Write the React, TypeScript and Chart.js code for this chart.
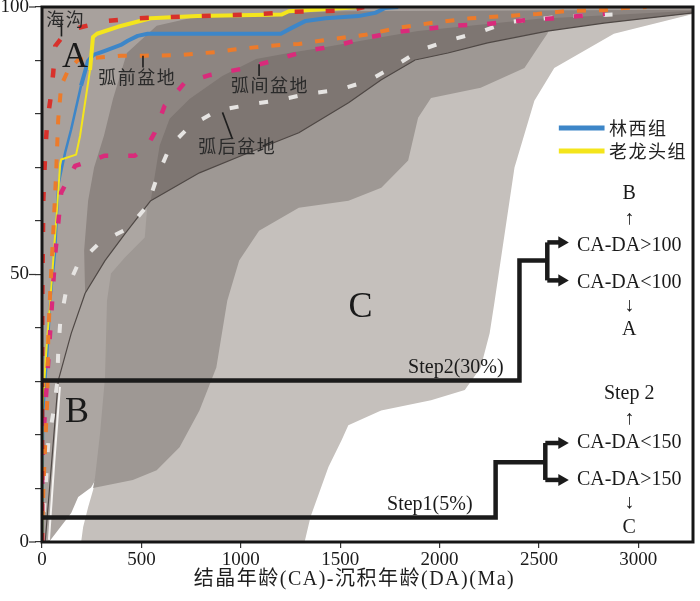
import React, { useEffect, useRef } from "react";
import { Chart, registerables } from "chart.js";

Chart.register(...registerables);

// ---------- axes ----------
const X_MIN = 0;
const X_MAX = 3275;
const Y_MIN = 0;
const Y_MAX = 100;
const X_TICKS = [0, 500, 1000, 1500, 2000, 2500, 3000];
const Y_TICKS = [0, 10, 20, 30, 40, 50, 60, 70, 80, 90, 100];
const Y_LABELED = [0, 50, 100];
const X_TITLE = "结晶年龄(CA)-沉积年龄(DA)(Ma)";

// ---------- sample curves (x: CA-DA / Ma, y: cumulative %) ----------
const linxiX = [0, 6.5, 31.5, 41.5, 66.5, 81.5, 116.5, 146.5, 196.5, 231.5, 256.5, 316.5, 396.5, 431.5, 481.5, 531.5, 1201.5, 1256.5, 1326.5, 1426.5, 1591.5, 1676.5, 1726.5, 1791.5];
const linxiY = [0, 24.6, 38.2, 45.1, 54.5, 66.6, 72.8, 77.1, 85.3, 89.9, 91, 91.8, 92.9, 93.7, 94.6, 95, 95, 96.1, 97.4, 97.9, 98.3, 98.9, 99.8, 100];

const laolongtouX = [0, 1.5, 26.5, 41.5, 66.5, 91.5, 96.5, 171.5, 191.5, 216.5, 241.5, 256.5, 276.5, 381.5, 546.5, 781.5, 1206.5, 1241.5, 1526.5, 1591.5];
const laolongtouY = [0, 24.6, 38.2, 45.1, 57.6, 70.7, 71.5, 72.4, 75.9, 82.1, 88.2, 94.4, 95, 96.3, 97.9, 98.3, 98.6, 99.2, 99.8, 100];

// reference curves
const trenchX = [0, 1.5, 6.5, 16.5, 26.5, 41.5, 56.5, 66.5, 106.5, 181.5, 331.5, 481.5, 791.5, 1106.5, 1256.5, 1556.5, 1620];
const trenchY = [0, 45, 63.8, 73.1, 78.7, 82.5, 87.7, 92.7, 94.6, 96.1, 97.4, 97.9, 98.3, 98.7, 99.1, 99.4, 100];

const forearcX = [0, 6.5, 16.5, 26.5, 31.5, 41.5, 56.5, 71.5, 81.5, 96.5, 131.5, 181.5, 266.5, 396.5, 516.5, 681.5, 881.5, 956.5, 1126.5, 1291.5, 1456.5, 1626.5, 1791.5, 1956.5, 2041.5, 2156.5, 2326.5, 2491.5, 2656.5, 2826.5, 2926.5, 3041.5];
const forearcY = [0, 9.7, 18.5, 26.5, 38.2, 47, 57.6, 69.4, 78.9, 85.3, 88.2, 90.1, 90.5, 90.9, 90.9, 91, 91.6, 92, 92.7, 93.1, 94, 94.8, 96.1, 97, 97.4, 97.9, 98.3, 98.7, 99.3, 99.4, 99.8, 100];

const intraArcX = [0, 1.5, 6.5, 16.5, 26.5, 36.5, 46.5, 56.5, 66.5, 81.5, 96.5, 166.5, 316.5, 466.5, 531.5, 566.5, 616.5, 716.5, 846.5, 1026.5, 1176.5, 1326.5, 1476.5, 1626.5, 1776.5, 1926.5, 2081.5, 2231.5, 2391.5, 2541.5, 2701.5, 2831.5];
const intraArcY = [0, 14, 19.6, 25.2, 30.8, 36.8, 42.4, 48.3, 53.9, 59.5, 65.3, 70.3, 72.2, 72.2, 74.1, 76.5, 81.5, 85.8, 87.3, 88.6, 90.1, 91.8, 92.7, 94.2, 95.3, 95.9, 96.5, 96.8, 97.4, 97.8, 98.3, 98.7];

const backArcX = [0, 11.5, 21.5, 31.5, 56.5, 76.5, 81.5, 91.5, 121.5, 181.5, 291.5, 431.5, 531.5, 581.5, 646.5, 746.5, 881.5, 1031.5, 1191.5, 1341.5, 1491.5, 1641.5, 1776.5, 1906.5, 2051.5, 2201.5, 2346.5, 2501.5, 2656.5, 2806.5, 2956.5];
const backArcY = [0, 6.9, 12.1, 18.5, 24.1, 29.7, 35.4, 41, 47, 52, 56, 58.6, 62.9, 68.5, 74.1, 77.8, 80.6, 81.7, 82.6, 83.8, 84.5, 86.2, 89, 92, 93.8, 95.3, 97.2, 97.8, 98.3, 98.5, 98.7];

// ---------- field boundaries ----------
// lower boundary of convergent field (thin dark curve)
const fieldAX = [16, 82, 147, 217, 317, 417, 547, 792, 1042, 1292, 1542, 1707, 1877, 2042, 2242, 2542, 2827, 3275];
const fieldAY = [0, 30.2, 39, 46.5, 52.6, 57.6, 63.8, 69, 72.8, 76.5, 82.1, 86.4, 90.1, 91.4, 93.3, 95.5, 97, 98.9];

// fore-arc sub-field: upper-left edge
const forearcFieldX = [217, 212, 232, 262, 312, 357, 427, 577, 792, 1500, 3275];
const forearcFieldY = [46.5, 54.5, 63.8, 70, 76, 82.8, 91.4, 96.5, 98.3, 99.2, 99.5];

// intra/back-arc sub-field: upper-left edge
const arcFieldX = [547, 592, 642, 742, 907, 1077, 1242, 1407, 1742, 1892, 2500, 3275];
const arcFieldY = [63.8, 74.1, 79.1, 82.8, 87.1, 90.3, 91.4, 92.4, 94.6, 95.5, 97.8, 99.3];

// extensional field C (light)
const fieldCX = [197, 1321, 1351, 1441, 1507, 1541, 1706, 1957, 2127, 2207, 2252, 2277, 2377, 2477, 2577, 2877, 3275, 3275, 300, 265, 257, 232, 207];
const fieldCY = [0, 0, 4.7, 14, 19, 21.8, 24.6, 26.5, 28.4, 32.6, 39, 45, 70, 82.5, 88.6, 95, 98.7, 100, 100, 11, 9.7, 6.5, 2.8];

// collisional field B
const fieldBX = [0, 35, 147, 182, 247, 275, 330, 360, 600, 800, 800, 0];
const fieldBY = [0, 0, 5.4, 8.4, 10.2, 12, 30, 45, 60, 80, 100, 100];

// overlap band (darker, middle)
const overlapX = [257, 267, 292, 317, 327, 347, 417, 517, 532, 700, 1500, 2400, 2560, 2542, 2507, 2427, 2207, 1957, 1892, 1842, 1707, 1542, 1292, 1092, 992, 932, 877, 792, 692, 577, 457];
const overlapY = [10.1, 12.1, 20.3, 30.8, 45.1, 50.2, 53.2, 56.9, 63.8, 75, 86, 95.5, 96.5, 95, 93.1, 88.6, 84.9, 83, 79.3, 71.3, 66.2, 63.8, 62.5, 58.2, 52.6, 45.1, 32.6, 24.6, 17.7, 13.4, 11.6];

// white gap along the field boundary
const gapX = [35, 62, 90];
const gapY = [0.4, 15, 29];

// ---------- step flow ----------
const step1X = [0, 2282, 2282, 2532];
const step1Y = [4.6, 4.6, 14.9, 14.9];
const step1BranchX = [2532, 2532];
const step1BranchY = [11.6, 18.5];
const step2X = [0, 2402, 2402, 2542];
const step2Y = [30.2, 30.2, 52.6, 52.6];
const step2BranchX = [2542, 2542];
const step2BranchY = [48.9, 56];
const ARROW_END = 2615;

// ---------- texts ----------
const FONT_SERIF = "'Liberation Serif', 'Times New Roman', serif";
const FONT_CJK = "'Noto Sans CJK SC', sans-serif";
const FONT_TITLE = "'Liberation Serif', 'Noto Sans CJK SC', serif";

const bigLetters = [
  { text: "A", x: 166, y: 90.5 },
  { text: "B", x: 176, y: 24.2 },
  { text: "C", x: 1602, y: 43.8 },
];
const fieldNames = [
  { text: "海沟", x: 21.5, y: 97.7, align: "left" },
  { text: "弧前盆地", x: 479, y: 86.8, align: "center" },
  { text: "弧间盆地", x: 1147, y: 85.4, align: "center" },
  { text: "弧后盆地", x: 982, y: 73.9, align: "center" },
];
const leaders = [
  { x1: 98, y1: 97.6, x2: 98, y2: 94.5 },
  { x1: 508, y1: 90.9, x2: 508, y2: 88.7 },
  { x1: 1092, y1: 89.3, x2: 1092, y2: 87.1 },
  { x1: 908, y1: 80.3, x2: 958, y2: 75.3 },
];
const stepLabels = [
  { text: "Step2(30%)", x: 2082, y: 32.6 },
  { text: "Step1(5%)", x: 1951, y: 6.9 },
];
const FLOW_X = 2954;
const flowText = ["B", "↑", "CA-DA>100", "CA-DA<100", "↓", "A", "Step 2", "↑", "CA-DA<150", "CA-DA>150", "↓", "C"];
const flowY = [65.1, 60.4, 55.4, 48.5, 44.2, 39.6, 27.8, 23.1, 18.5, 11.6, 7.3, 2.6];

const legendNames = ["林西组", "老龙头组"];
const legendY = [77.4, 73.1];
const LEGEND_X1 = 2600;
const LEGEND_X2 = 2830;
const LEGEND_TEXT_X = 2852;
const TITLE_X = 1572;

// ---------- helpers ----------
const zip = (xs: number[], ys: number[]) => xs.map((x, i) => ({ x, y: ys[i] }));

const poly = (pts: any[], color: string, order: number) => ({
  data: pts,
  fill: "shape",
  backgroundColor: color,
  borderColor: "rgba(0,0,0,0)",
  borderWidth: 0,
  pointRadius: 0,
  tension: 0,
  order,
});

const curve = (pts: any[], color: string, width: number, dash: number[], order: number, extra: any = {}) => ({
  data: pts,
  fill: false,
  borderColor: color,
  backgroundColor: color,
  borderWidth: width,
  borderDash: dash,
  borderCapStyle: "butt",
  borderJoinStyle: "round",
  pointRadius: 0,
  tension: 0,
  clip: 0,
  order,
  ...extra,
});

const blackPts = zip(fieldAX, fieldAY);
const fieldAPoly = [{ x: 0, y: 0 }, ...blackPts, { x: X_MAX, y: 100 }, { x: 0, y: 100 }];
const forearcPoly = [...zip(forearcFieldX, forearcFieldY), ...blackPts.filter((p) => p.x > 217).reverse()];
const arcPoly = [...zip(arcFieldX, arcFieldY), ...blackPts.filter((p) => p.x > 547).reverse()];

const arrow = (x0: number, y: number, order: number) =>
  curve([{ x: x0, y }, { x: ARROW_END, y }], "#1b1b1b", 4.5, [], order, {
    pointRadius: [0, 7],
    pointStyle: "triangle",
    pointRotation: 90,
    pointBackgroundColor: "#1b1b1b",
    pointBorderWidth: 0,
  });

const overlayPlugin = {
  id: "overlay",
  afterDatasetsDraw(chart: any) {
    const { ctx, chartArea, scales } = chart;
    const px = (v: number) => scales.x.getPixelForValue(v);
    const py = (v: number) => scales.y.getPixelForValue(v);
    ctx.save();
    ctx.textBaseline = "middle";

    // leader lines
    ctx.strokeStyle = "#1e1e1e";
    ctx.lineWidth = 1.6;
    for (const l of leaders) {
      ctx.beginPath();
      ctx.moveTo(px(l.x1), py(l.y1));
      ctx.lineTo(px(l.x2), py(l.y2));
      ctx.stroke();
    }

    // field names
    ctx.fillStyle = "#2a2a2a";
    ctx.font = `18px ${FONT_CJK}`;
    (ctx as any).letterSpacing = "1.5px";
    for (const t of fieldNames) {
      ctx.textAlign = t.align;
      ctx.fillText(t.text, px(t.x), py(t.y));
    }
    (ctx as any).letterSpacing = "0px";

    // big letters
    ctx.fillStyle = "#1a1a1a";
    ctx.textAlign = "center";
    ctx.font = `36px ${FONT_SERIF}`;
    for (const t of bigLetters) ctx.fillText(t.text, px(t.x), py(t.y));

    // step labels & flow text
    ctx.font = `20px ${FONT_SERIF}`;
    for (const t of stepLabels) ctx.fillText(t.text, px(t.x), py(t.y));
    flowText.forEach((t, i) => ctx.fillText(t, px(FLOW_X), py(flowY[i])));

    // legend
    const ds = chart.data.datasets;
    legendNames.forEach((name, i) => {
      const d = ds.find((s: any) => s.label === name);
      ctx.strokeStyle = d ? d.borderColor : "#000";
      ctx.lineWidth = 5;
      ctx.beginPath();
      ctx.moveTo(px(LEGEND_X1), py(legendY[i]));
      ctx.lineTo(px(LEGEND_X2), py(legendY[i]));
      ctx.stroke();
      ctx.fillStyle = "#222";
      ctx.textAlign = "left";
      ctx.font = `18px ${FONT_CJK}`;
      (ctx as any).letterSpacing = "1.5px";
      ctx.fillText(name, px(LEGEND_TEXT_X), py(legendY[i]));
      (ctx as any).letterSpacing = "0px";
    });

    // frame
    ctx.strokeStyle = "#161616";
    ctx.lineWidth = 3;
    ctx.strokeRect(chartArea.left, chartArea.top, chartArea.right - chartArea.left, chartArea.bottom - chartArea.top);

    // longer major y ticks
    ctx.strokeStyle = "#333";
    ctx.lineWidth = 1.2;
    for (const v of Y_LABELED) {
      ctx.beginPath();
      ctx.moveTo(chartArea.left - 13, py(v));
      ctx.lineTo(chartArea.left - 6, py(v));
      ctx.stroke();
    }

    // axis title
    ctx.fillStyle = "#1e1e1e";
    ctx.textAlign = "center";
    ctx.font = `20px ${FONT_TITLE}`;
    (ctx as any).letterSpacing = "1.5px";
    ctx.fillText(X_TITLE, px(TITLE_X), 580);
    (ctx as any).letterSpacing = "0px";
    ctx.restore();
  },
};

export default function App() {
  const ref = useRef<HTMLCanvasElement | null>(null);

  useEffect(() => {
    if (!ref.current) return;
    const datasets: any[] = [
      // fields (higher order = further back)
      poly(zip(fieldCX, fieldCY), "#c5c0bc", 100),
      poly(zip(fieldBX, fieldBY), "#aca6a2", 99),
      poly(zip(overlapX, overlapY), "#9e9894", 98),
      poly(fieldAPoly, "#a8a19d", 97),
      poly(forearcPoly, "#8d8581", 96),
      poly(arcPoly, "#7e7672", 95),
      curve(blackPts, "#4f4845", 1.2, [], 90),
      curve(zip(gapX, gapY), "#f5f3f1", 2, [], 89),
      // sample curves
      {
        ...curve(zip(linxiX, linxiY), "#3d86c8", 4, [], 60, {
          segment: { borderWidth: (c: any) => (c.p1.parsed.y < 86 ? 2.5 : 4) },
        }),
        label: "林西组",
      },
      {
        ...curve(zip(laolongtouX, laolongtouY), "#f4e51c", 4, [], 59, {
          segment: { borderWidth: (c: any) => (c.p1.parsed.y < 94 ? 2 : 4) },
        }),
        label: "老龙头组",
      },
      // reference curves
      curve(zip(backArcX, backArcY), "#e6e4e2", 4, [9, 21], 55),
      curve(zip(intraArcX, intraArcY), "#d92b7b", 4.5, [9, 20], 54),
      curve(zip(forearcX, forearcY), "#ec7b2b", 4, [9, 13], 53),
      curve(zip(trenchX, trenchY), "#d8312b", 4.5, [9, 22], 52),
      // step flow
      curve(zip(step1X, step1Y), "#1b1b1b", 4.5, [], 10, { borderJoinStyle: "miter" }),
      curve(zip(step1BranchX, step1BranchY), "#1b1b1b", 4.5, [], 10),
      arrow(2532, 18.5, 10),
      arrow(2532, 11.6, 10),
      curve(zip(step2X, step2Y), "#1b1b1b", 4.5, [], 10, { borderJoinStyle: "miter" }),
      curve(zip(step2BranchX, step2BranchY), "#1b1b1b", 4.5, [], 10),
      arrow(2542, 56, 10),
      arrow(2542, 48.9, 10),
    ];

    const tickFont = { family: FONT_SERIF, size: 19 };
    const chart = new Chart(ref.current, {
      type: "line",
      data: { datasets },
      options: {
        responsive: false,
        animation: false,
        events: [],
        layout: { padding: { top: 6, right: 3, left: 0, bottom: 0 } },
        plugins: { legend: { display: false }, tooltip: { enabled: false } },
        scales: {
          x: {
            type: "linear",
            min: X_MIN,
            max: X_MAX,
            border: { display: false },
            grid: { drawOnChartArea: false, drawTicks: true, tickLength: 6, color: "#333", lineWidth: 1.2 },
            ticks: { font: tickFont, color: "#1a1a1a", padding: 1, maxRotation: 0, autoSkip: false, callback: (v: any) => String(v) },
            afterBuildTicks: (s: any) => {
              s.ticks = X_TICKS.map((value) => ({ value }));
            },
            afterFit: (s: any) => {
              s.height = 59;
              s.paddingLeft = 0;
              s.paddingRight = 0;
            },
          },
          y: {
            type: "linear",
            min: Y_MIN,
            max: Y_MAX,
            border: { display: false },
            grid: { drawOnChartArea: false, drawTicks: true, tickLength: 7, color: "#333", lineWidth: 1.2 },
            ticks: {
              font: tickFont,
              color: "#1a1a1a",
              padding: 6,
              callback: (v: any) => (Y_LABELED.includes(Number(v)) ? String(v) : ""),
            },
            afterBuildTicks: (s: any) => {
              s.ticks = Y_TICKS.map((value) => ({ value }));
            },
            afterFit: (s: any) => {
              s.width = 42;
              s.paddingTop = 0;
              s.paddingBottom = 0;
            },
          },
        },
      } as any,
      plugins: [overlayPlugin],
    });
    return () => chart.destroy();
  }, []);

  return (
    <div style={{ position: "absolute", left: 0, top: 0, width: 700, height: 601, background: "#fff" }}>
      <canvas ref={ref} width={700} height={601} style={{ width: 700, height: 601, display: "block" }} />
    </div>
  );
}
